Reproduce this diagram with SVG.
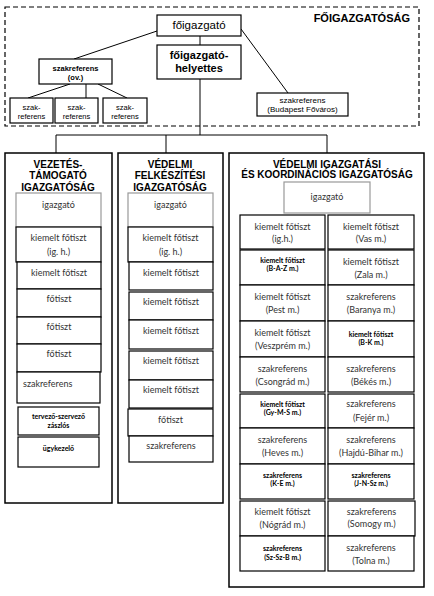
<svg xmlns="http://www.w3.org/2000/svg" width="434" height="596" viewBox="0 0 434 596">
<style>
.bx{fill:#fff;stroke:#000;stroke-width:1.2}
.gb{fill:#fff;stroke:#999;stroke-width:1.2}
.col{fill:#fff;stroke:#000;stroke-width:1.5}
.ln{stroke:#000;stroke-width:1;fill:none}
.ar{font-family:"Liberation Sans",Arial,sans-serif;text-anchor:middle;fill:#000}
.hd{font-family:"Liberation Sans",Arial,sans-serif;font-weight:bold;font-size:10px;text-anchor:middle;fill:#000}
.cl{font-family:Lato,"Noto Sans",sans-serif;text-anchor:middle;fill:#333;font-size:9px}
.cb{font-family:Lato,"Noto Sans",sans-serif;text-anchor:middle;fill:#000;font-size:7px;font-weight:bold}
</style>
<rect width="434" height="596" fill="#fff"/>
<rect x="5" y="7" width="414" height="119" fill="none" stroke="#000" stroke-width="1.2" stroke-dasharray="5,3"/>
<text x="410" y="22" class="ar" style="text-anchor:end;font-weight:bold;font-size:11px">FŐIGAZGATÓSÁG</text>
<g id="connectors">
<line class="ln" x1="200" y1="36" x2="200" y2="45"/>
<line class="ln" x1="200" y1="79" x2="200" y2="135"/>
<line class="ln" x1="157" y1="31" x2="74" y2="59"/>
<line class="ln" x1="241" y1="29" x2="288" y2="93"/>
<line class="ln" x1="70" y1="84" x2="28" y2="98"/>
<line class="ln" x1="86" y1="84" x2="86" y2="98"/>
<line class="ln" x1="98" y1="84" x2="127" y2="98"/>
<line class="ln" x1="56" y1="135" x2="327" y2="135"/>
<line class="ln" x1="56" y1="135" x2="56" y2="153"/>
<line class="ln" x1="166" y1="135" x2="166" y2="153"/>
<line class="ln" x1="327" y1="135" x2="327" y2="153"/>
</g>
<g id="foigazgato"><rect class="bx" x="157" y="15" width="84" height="21"/><text class="ar" x="199" y="29" font-size="11.5">főigazgató</text></g>
<g id="helyettes"><rect class="bx" x="157" y="45" width="84" height="34"/><text class="ar" x="199" y="59" font-size="11" font-weight="bold">főigazgató-</text><text class="ar" x="199" y="72" font-size="11" font-weight="bold">helyettes</text></g>
<g id="szakref-ov"><rect class="bx" x="39" y="59" width="73" height="25"/><text class="ar" x="75.5" y="71" font-size="7.5" font-weight="bold">szakreferens</text><text class="ar" x="75.5" y="80" font-size="7.5" font-weight="bold">(ov.)</text></g>
<g id="szak1"><rect class="bx" x="10" y="98" width="43" height="25"/><text class="ar" x="31.5" y="110" font-size="7.5">szak-</text><text class="ar" x="31.5" y="119" font-size="7.5">referens</text></g>
<g id="szak2"><rect class="bx" x="55" y="98" width="43" height="25"/><text class="ar" x="76.5" y="110" font-size="7.5">szak-</text><text class="ar" x="76.5" y="119" font-size="7.5">referens</text></g>
<g id="szak3"><rect class="bx" x="103" y="98" width="44" height="25"/><text class="ar" x="125" y="110" font-size="7.5">szak-</text><text class="ar" x="125" y="119" font-size="7.5">referens</text></g>
<g id="szak-bp"><rect class="bx" x="257" y="93" width="91" height="23"/><text class="ar" x="302.5" y="103" font-size="8">szakreferens</text><text class="ar" x="302.5" y="112" font-size="8">(Budapest Főváros)</text></g>

<g id="col-vezetes">
<rect class="col" x="5" y="153" width="107" height="350"/>
<text class="hd" x="58" y="168">VEZETÉS-</text><text class="hd" x="58" y="179">TÁMOGATÓ</text><text class="hd" x="58" y="191">IGAZGATÓSÁG</text>
</g>
<g id="l-igazgato"><rect class="gb" x="16" y="193" width="85" height="34"/><text class="cl" x="58.5" y="208" font-size="10.5">igazgató</text></g>
<g id="l-kfig"><rect class="bx" x="16" y="227" width="85" height="35"/><text class="cl" x="58.5" y="241" font-size="10.5">kiemelt főtiszt</text><text class="cl" x="58.5" y="255" font-size="10.5">(ig. h.)</text></g>
<g id="l-kf"><rect class="bx" x="17" y="262" width="84" height="27"/><text class="cl" x="59" y="276" font-size="9.2">kiemelt főtiszt</text></g>
<g id="l-ft1"><rect class="bx" x="17" y="289" width="84" height="28"/><text class="cl" x="59" y="302" font-size="9.2">főtiszt</text></g>
<g id="l-ft2"><rect class="bx" x="17" y="317" width="84" height="27"/><text class="cl" x="59" y="330" font-size="9.2">főtiszt</text></g>
<g id="l-ft3"><rect class="bx" x="17" y="344" width="84" height="28"/><text class="cl" x="59" y="357" font-size="9.2">főtiszt</text></g>
<g id="l-szr"><rect class="bx" x="17" y="372" width="83" height="31"/><text class="cl" x="23" y="387" font-size="10.5" style="text-anchor:start">szakreferens</text></g>
<g id="l-tsz"><rect class="bx" x="18" y="407" width="81" height="28"/><text class="cb" x="58.5" y="419" font-size="7.5">tervező-szervező</text><text class="cb" x="58.5" y="428" font-size="7.5">zászlós</text></g>
<g id="l-ugy"><rect class="bx" x="18" y="437" width="81" height="30"/><text class="cb" x="58.5" y="451" font-size="8">ügykezelő</text></g>

<g id="col-vedelmi">
<rect class="col" x="118" y="153" width="105" height="350"/>
<text class="hd" x="170" y="168">VÉDELMI</text><text class="hd" x="170" y="179">FELKÉSZÍTÉSI</text><text class="hd" x="170" y="191">IGAZGATÓSÁG</text>
</g>
<g id="m-igazgato"><rect class="gb" x="128" y="193" width="85" height="34"/><text class="cl" x="170.5" y="208" font-size="10.5">igazgató</text></g>
<g id="m-kfig"><rect class="bx" x="128" y="227" width="85" height="35"/><text class="cl" x="170.5" y="241" font-size="10.5">kiemelt főtiszt</text><text class="cl" x="170.5" y="255" font-size="10.5">(ig. h.)</text></g>
<g id="m-kf1"><rect class="bx" x="129" y="262" width="84" height="28"/><text class="cl" x="171" y="276" font-size="9.5">kiemelt főtiszt</text></g>
<g id="m-kf2"><rect class="bx" x="129" y="292" width="84" height="28"/><text class="cl" x="171" y="305" font-size="9.5">kiemelt főtiszt</text></g>
<g id="m-kf3"><rect class="bx" x="129" y="320" width="84" height="29"/><text class="cl" x="171" y="334" font-size="9.5">kiemelt főtiszt</text></g>
<g id="m-kf4"><rect class="bx" x="129" y="351" width="84" height="29"/><text class="cl" x="171" y="364" font-size="9.5">kiemelt főtiszt</text></g>
<g id="m-kf5"><rect class="bx" x="129" y="380" width="84" height="28"/><text class="cl" x="171" y="393" font-size="9.5">kiemelt főtiszt</text></g>
<g id="m-ft"><rect class="bx" x="128" y="409" width="85" height="27"/><text class="cl" x="170.5" y="423" font-size="9.5">főtiszt</text></g>
<g id="m-szr"><rect class="bx" x="129" y="436" width="84" height="26"/><text class="cl" x="171" y="449" font-size="9.5">szakreferens</text></g>

<g id="col-igazgatasi">
<rect class="col" x="229" y="153" width="195" height="434"/>
<text class="hd" x="327" y="168">VÉDELMI IGAZGATÁSI</text><text class="hd" x="327" y="178">ÉS KOORDINÁCIÓS IGAZGATÓSÁG</text>
</g>
<g id="r-igazgato"><rect class="gb" x="284" y="182" width="86" height="31"/><text class="cl" x="327" y="200" font-size="11">igazgató</text></g>

<g id="r-l1"><rect class="bx" x="240" y="215" width="85" height="34"/><text class="cl" x="282.5" y="230" font-size="8">kiemelt főtiszt</text><text class="cl" x="282.5" y="242" font-size="8">(ig.h.)</text></g>
<g id="r-l2"><rect class="bx" x="240" y="250" width="85" height="35"/><text class="cb" x="282.5" y="263">kiemelt főtiszt</text><text class="cb" x="282.5" y="271">(B-A-Z m.)</text></g>
<g id="r-l3"><rect class="bx" x="240" y="285" width="85" height="36"/><text class="cl" x="282.5" y="300">kiemelt főtiszt</text><text class="cl" x="282.5" y="313">(Pest m.)</text></g>
<g id="r-l4"><rect class="bx" x="240" y="321" width="85" height="36"/><text class="cl" x="282.5" y="336">kiemelt főtiszt</text><text class="cl" x="282.5" y="349">(Veszprém m.)</text></g>
<g id="r-l5"><rect class="bx" x="240" y="357" width="85" height="35"/><text class="cl" x="282.5" y="372">szakreferens</text><text class="cl" x="282.5" y="385">(Csongrád m.)</text></g>
<g id="r-l6"><rect class="bx" x="240" y="394" width="85" height="34"/><text class="cb" x="282.5" y="407">kiemelt főtiszt</text><text class="cb" x="282.5" y="415">(Gy-M-S m.)</text></g>
<g id="r-l7"><rect class="bx" x="240" y="428" width="85" height="36"/><text class="cl" x="282.5" y="443">szakreferens</text><text class="cl" x="282.5" y="456">(Heves m.)</text></g>
<g id="r-l8"><rect class="bx" x="240" y="464" width="85" height="35"/><text class="cb" x="282.5" y="478">szakreferens</text><text class="cb" x="282.5" y="486">(K-E m.)</text></g>
<g id="r-l9"><rect class="bx" x="240" y="501" width="85" height="35"/><text class="cl" x="282.5" y="515">kiemelt főtiszt</text><text class="cl" x="282.5" y="528">(Nógrád m.)</text></g>
<g id="r-l10"><rect class="bx" x="240" y="536" width="85" height="35"/><text class="cb" x="282.5" y="551">szakreferens</text><text class="cb" x="282.5" y="560">(Sz-Sz-B m.)</text></g>

<g id="r-r1"><rect class="bx" x="328" y="215" width="86" height="34"/><text class="cl" x="371" y="230" font-size="8">kiemelt főtiszt</text><text class="cl" x="371" y="242" font-size="8">(Vas m.)</text></g>
<g id="r-r2"><rect class="bx" x="328" y="250" width="86" height="35"/><text class="cl" x="371" y="265" font-size="8">kiemelt főtiszt</text><text class="cl" x="371" y="278" font-size="8">(Zala m.)</text></g>
<g id="r-r3"><rect class="bx" x="328" y="285" width="86" height="36"/><text class="cl" x="371" y="300">szakreferens</text><text class="cl" x="371" y="313">(Baranya m.)</text></g>
<g id="r-r4"><rect class="bx" x="328" y="321" width="86" height="36"/><text class="cb" x="371" y="337">kiemelt főtiszt</text><text class="cb" x="371" y="345">(B-K m.)</text></g>
<g id="r-r5"><rect class="bx" x="328" y="357" width="86" height="35"/><text class="cl" x="371" y="372">szakreferens</text><text class="cl" x="371" y="385">(Békés m.)</text></g>
<g id="r-r6"><rect class="bx" x="328" y="394" width="86" height="34"/><text class="cl" x="371" y="407">szakreferens</text><text class="cl" x="371" y="421">(Fejér m.)</text></g>
<g id="r-r7"><rect class="bx" x="328" y="428" width="86" height="36"/><text class="cl" x="371" y="443">szakreferens</text><text class="cl" x="371" y="456">(Hajdú-Bihar m.)</text></g>
<g id="r-r8"><rect class="bx" x="328" y="464" width="86" height="35"/><text class="cb" x="371" y="478">szakreferens</text><text class="cb" x="371" y="486">(J-N-Sz m.)</text></g>
<g id="r-r9"><rect class="bx" x="328" y="501" width="87" height="35"/><text class="cl" x="371.5" y="515" font-size="8">szakreferens</text><text class="cl" x="371.5" y="527" font-size="8">(Somogy m.)</text></g>
<g id="r-r10"><rect class="bx" x="328" y="536" width="86" height="35"/><text class="cl" x="371" y="551">szakreferens</text><text class="cl" x="371" y="564">(Tolna m.)</text></g>
</svg>
